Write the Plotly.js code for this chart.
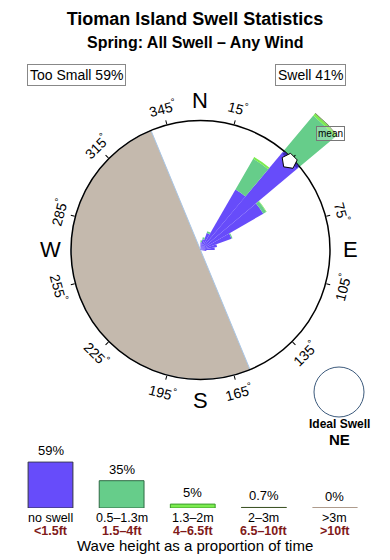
<!DOCTYPE html>
<html>
<head>
<meta charset="utf-8">
<script src="https://cdn.plot.ly/plotly-3.0.1.min.js"></script>
<style>html,body{margin:0;padding:0;background:#fff;}#chart{width:390px;height:560px;}</style>
</head>
<body>
<div id="chart"></div>
<script>
// ---------- DATA ----------
const dirBins = [5, 15, 25, 35, 45, 55, 65, 75, 85, 95];      // bin centres (deg)
const binWidth = 10;                                            // deg
const roseNoSwell = [6, 8.5, 14, 54, 99, 56, 25.5, 13, 11, 4.5]; // % of ring radius
const rose05to13  = [1.5, 1.5, 1.5, 27.4, 36.5, 2.5, 0.8, 0, 0, 0];
const rose13to2   = [0, 0, 0, 1.5, 2, 0.5, 0, 0, 0, 0];
const rose2to3    = [0, 0, 0, 0, 0.6, 0, 0, 0, 0, 0];
const ringValue = 100;
const outerValue = 140;
const landDir = 247.5, landWidth = 180;
const meanDir = 45;
const degTicks = [15, 45, 75, 105, 135, 165, 195, 225, 255, 285, 315, 345];
const degLabels = [15, 75, 105, 135, 165, 195, 225, 255, 285, 315, 345];
const compass = ['N', 'E', 'S', 'W'];
const compassDir = [0, 90, 180, 270];
const heightClasses = ['no swell', '0.5\u20131.3m', '1.3\u20132m', '2\u20133m', '>3m'];
const heightFeet = ['<1.5ft', '1.5\u20134ft', '4\u20136.5ft', '6.5\u201310ft', '>10ft'];
const heightPct = [59, 35, 5, 0.7, 0];
const heightPctText = ['59%', '35%', '5%', '0.7%', '0%'];
const tooSmallPct = 59, swellPct = 41;

// ---------- STYLE ----------
const W = 390, H = 560;
const FONT = 'Liberation Sans, Arial, Helvetica, sans-serif';
const classColors = ['#674cfa', '#66cd8a', '#7cec4f', '#5b7a3c', '#bda89a'];
const classLines  = ['#333344', '#2f6a44', '#3a9a2a', '#3f5527', '#a89484'];
const cxPx = 200.5, cyPxB = 310, Rpx = 129.5;   // ring centre (from bottom) and radius in px
const Rout = Rpx * outerValue / ringValue;
const ringDom = {x: [(cxPx - Rpx) / W, (cxPx + Rpx) / W], y: [(cyPxB - Rpx) / H, (cyPxB + Rpx) / H]};
const roseDom = {x: [(cxPx - Rout) / W, (cxPx + Rout) / W], y: [(cyPxB - Rout) / H, (cyPxB + Rout) / H]};
function polarPaper(deg, rpx) {
  const a = deg * Math.PI / 180;
  return {x: (cxPx + rpx * Math.sin(a)) / W, y: (cyPxB + rpx * Math.cos(a)) / H};
}

const traces = [];
// land sector
traces.push({type: 'barpolar', subplot: 'polar', r: [ringValue], theta: [landDir], width: [landWidth],
  marker: {color: '#c4b9ad', line: {color: '#a9c6e6', width: 1}}, hoverinfo: 'skip', showlegend: false});
// rose stacks
[roseNoSwell, rose05to13, rose13to2, rose2to3].forEach((vals, k) => {
  traces.push({type: 'barpolar', subplot: 'polar', r: vals, theta: dirBins, width: dirBins.map(() => binWidth),
    marker: {color: classColors[k], line: {width: 0}}, name: heightClasses[k], showlegend: false});
});
// mean marker band + arrow (on ring subplot)
traces.push({type: 'barpolar', subplot: 'polar2', r: [4], base: [ringValue - 2.5], theta: [meanDir], width: [binWidth - 1],
  marker: {color: '#3a2bb5', line: {width: 0}}, hoverinfo: 'skip', showlegend: false});
traces.push({type: 'scatterpolar', subplot: 'polar2', r: [ringValue - 3], theta: [meanDir], mode: 'markers',
  marker: {symbol: 'pentagon', size: 16, color: '#ffffff', angle: meanDir + 180, line: {color: '#000', width: 1}},
  cliponaxis: false, hoverinfo: 'skip', showlegend: false});
// legend bars
traces.push({type: 'bar', xaxis: 'x', yaxis: 'y', x: heightClasses.map((_, i) => i), y: heightPct, width: 0.63,
  marker: {color: classColors, line: {color: classLines, width: 1}}, cliponaxis: false, hoverinfo: 'skip', showlegend: false});

const annotations = [];
annotations.push({xref: 'paper', yref: 'paper', x: 0.5, y: (H - 42.5) / H, text: '<b>Spring: All Swell \u2013 Any Wind</b>',
  showarrow: false, font: {family: FONT, size: 16, color: '#000'}, xanchor: 'center', yanchor: 'middle'});
annotations.push({xref: 'paper', yref: 'paper', x: 76.5 / W, y: (H - 75) / H, text: 'Too Small ' + tooSmallPct + '%',
  showarrow: false, font: {family: FONT, size: 14, color: '#000'}, bordercolor: '#888', borderwidth: 1, borderpad: 2,
  xanchor: 'center', yanchor: 'middle'});
annotations.push({xref: 'paper', yref: 'paper', x: 310.5 / W, y: (H - 75) / H, text: 'Swell ' + swellPct + '%',
  showarrow: false, font: {family: FONT, size: 14, color: '#000'}, bordercolor: '#888', borderwidth: 1, borderpad: 2,
  xanchor: 'center', yanchor: 'middle'});
compass.forEach((c, i) => {
  const p = polarPaper(compassDir[i], 150);
  annotations.push({xref: 'paper', yref: 'paper', x: p.x, y: p.y, text: c, showarrow: false,
    font: {family: FONT, size: 22, color: '#000'}, xanchor: 'center', yanchor: 'middle'});
});
degLabels.forEach(d => {
  const p = polarPaper(d, 146.5);
  let ang = d > 180 ? d - 360 : d;
  if (ang > 90) ang -= 180;
  if (ang < -90) ang += 180;
  annotations.push({xref: 'paper', yref: 'paper', x: p.x, y: p.y, text: d + '<sup>\u00b0</sup>', showarrow: false,
    textangle: ang, font: {family: FONT, size: 14, color: '#000'}, xanchor: 'center', yanchor: 'middle'});
});
annotations.push({xref: 'paper', yref: 'paper', x: 330.5 / W, y: (H - 133) / H, text: 'mean', showarrow: false,
  font: {family: FONT, size: 10, color: '#000'}, bordercolor: '#777', borderwidth: 1, borderpad: 1,
  bgcolor: 'rgba(255,255,255,0.25)', xanchor: 'center', yanchor: 'middle'});
annotations.push({xref: 'paper', yref: 'paper', x: 339 / W, y: (H - 424) / H, text: '<b>Ideal Swell</b>', showarrow: false,
  font: {family: FONT, size: 12, color: '#000'}, xanchor: 'center', yanchor: 'middle'});
annotations.push({xref: 'paper', yref: 'paper', x: 339 / W, y: (H - 439) / H, text: '<b>NE</b>', showarrow: false,
  font: {family: FONT, size: 15, color: '#000'}, xanchor: 'center', yanchor: 'middle'});
heightClasses.forEach((c, i) => {
  annotations.push({xref: 'x', yref: 'y', x: i, y: heightPct[i], text: heightPctText[i], showarrow: false,
    font: {family: FONT, size: 13, color: '#000'}, xanchor: 'center', yanchor: 'bottom', yshift: 2});
  annotations.push({xref: 'x', yref: 'paper', x: i, y: (H - 517.5) / H, text: c.replace('>', '&gt;'), showarrow: false,
    font: {family: FONT, size: 12.5, color: '#000'}, xanchor: 'center', yanchor: 'middle'});
  annotations.push({xref: 'x', yref: 'paper', x: i, y: (H - 530.5) / H, text: '<b>' + heightFeet[i].replace('<', '&lt;').replace('>', '&gt;') + '</b>',
    showarrow: false, font: {family: FONT, size: 12.5, color: '#7f1a1a'}, xanchor: 'center', yanchor: 'middle'});
});
annotations.push({xref: 'paper', yref: 'paper', x: 0.5, y: (H - 545.5) / H, text: 'Wave height as a proportion of time',
  showarrow: false, font: {family: FONT, size: 15, color: '#000'}, xanchor: 'center', yanchor: 'middle'});

const shapes = [];
shapes.push({type: 'circle', xref: 'paper', yref: 'paper', x0: 314 / W, x1: 364 / W, y0: (H - 417) / H, y1: (H - 367) / H,
  line: {color: '#3c5a7c', width: 1}});
heightClasses.forEach((c, i) => {
  shapes.push({type: 'line', xref: 'x', yref: 'y', x0: i - 0.315, x1: i + 0.315, y0: 0, y1: 0, layer: 'below',
    line: {color: classLines[i], width: 1.5}});
});

const angAxisBase = {rotation: 90, direction: 'clockwise', showgrid: false, showticklabels: false};
const layout = {
  width: W, height: H, margin: {l: 0, r: 0, t: 0, b: 0}, paper_bgcolor: '#fff', plot_bgcolor: 'rgba(0,0,0,0)',
  font: {family: FONT},
  title: {text: '<b>Tioman Island Swell Statistics</b>', x: 0.5, xanchor: 'center', xref: 'paper',
    y: 1 - 19 / H, yref: 'container', yanchor: 'middle', font: {family: FONT, size: 18, color: '#000'}},
  showlegend: false,
  polar: {domain: roseDom, bgcolor: 'rgba(0,0,0,0)', barmode: 'stack',
    radialaxis: {visible: false, range: [0, outerValue]},
    angularaxis: Object.assign({}, angAxisBase, {showline: false, ticks: ''})},
  polar2: {domain: ringDom, bgcolor: 'rgba(0,0,0,0)',
    radialaxis: {visible: false, range: [0, ringValue]},
    angularaxis: Object.assign({}, angAxisBase, {showline: true, linecolor: '#000', linewidth: 1.5, ticks: 'outside',
      ticklen: 4, tickwidth: 1, tickcolor: '#000', tickmode: 'array', tickvals: degTicks, layer: 'below traces'})},
  xaxis: {domain: [0.03833, 0.95013], range: [-0.5, 4.5], visible: false, fixedrange: true},
  yaxis: {domain: [52 / H, 98.8 / H], range: [0, 60], visible: false, fixedrange: true},
  annotations: annotations,
  shapes: shapes
};
Plotly.newPlot('chart', traces, layout, {staticPlot: true, displayModeBar: false});
</script>
</body>
</html>
